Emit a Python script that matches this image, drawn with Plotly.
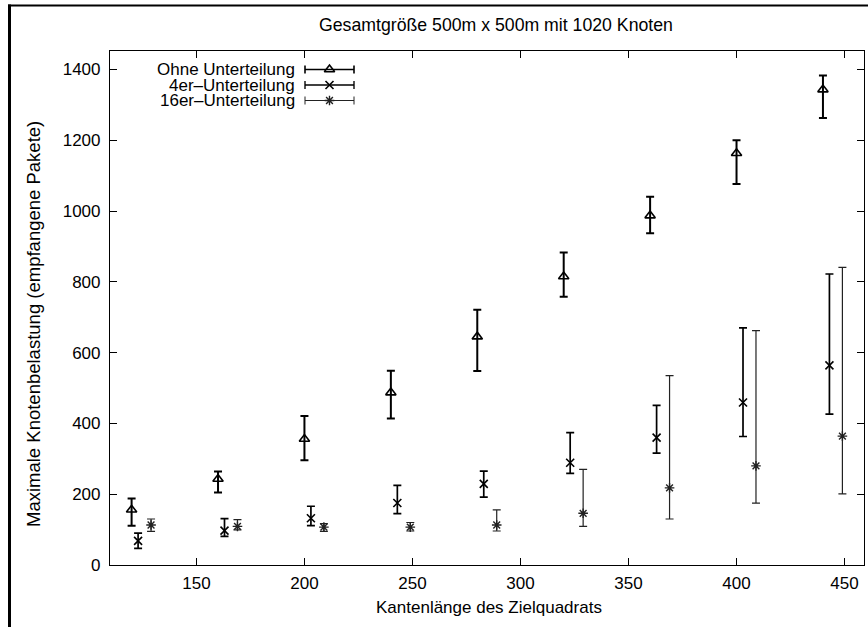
import plotly.graph_objects as go

# ---- data ----
x_ohne = [120, 160, 200, 240, 280, 320, 360, 400, 440]
y_ohne = [156, 243, 356, 487, 645, 815, 987, 1163, 1343]
lo_ohne = [111, 205, 296, 414, 548, 758, 937, 1076, 1263]
hi_ohne = [188, 264, 421, 549, 721, 883, 1040, 1200, 1383]

x_4er = [123, 163, 203, 243, 283, 323, 363, 403, 443]
y_4er = [68, 97, 132, 175, 229, 289, 360, 459, 564]
lo_4er = [47, 81, 111, 145, 192, 259, 316, 363, 426]
hi_4er = [90, 131, 166, 225, 265, 374, 451, 670, 822]

x_16er = [129, 169, 209, 249, 289, 329, 369, 409, 449]
y_16er = [113, 109, 107, 107, 113, 146, 218, 280, 364]
lo_16er = [95, 99, 95, 96, 96, 109, 130, 175, 201]
hi_16er = [130, 128, 117, 120, 156, 270, 535, 662, 841]

series_names = ["Ohne Unterteilung", "4er\u2013Unterteilung", "16er\u2013Unterteilung"]
x_ticks = [150, 200, 250, 300, 350, 400, 450]
y_ticks = [0, 200, 400, 600, 800, 1000, 1200, 1400]

title = "Gesamtgr\u00f6\u00dfe 500m x 500m mit 1020 Knoten"
x_title = "Kantenl\u00e4nge des Zielquadrats"
y_title = "Maximale Knotenbelastung (empfangene Pakete)"

W, H = 868, 627
L, R, T, B = 110, 864, 51, 565   # plot area in pixels
FONT = "Liberation Sans, Arial, Helvetica, sans-serif"
FS = 17


def px(xp):
    return (xp - L) / (R - L)


def py(yp):
    return (B - yp) / (B - T)


styles = [
    dict(symbol="triangle-up-open", size=9, lw=1.6, color="#000000", ew=2.0),
    dict(symbol="x-thin-open", size=8, lw=1.6, color="#000000", ew=1.7),
    dict(symbol="asterisk-open", size=8, lw=1.4, color="#222222", ew=1.2),
]
datasets = [
    (x_ohne, y_ohne, lo_ohne, hi_ohne),
    (x_4er, y_4er, lo_4er, hi_4er),
    (x_16er, y_16er, lo_16er, hi_16er),
]

fig = go.Figure()
for name, (xs, ys, lo, hi), st in zip(series_names, datasets, styles):
    fig.add_trace(go.Scatter(
        x=xs, y=ys, mode="markers", name=name, showlegend=False,
        marker=dict(symbol=st["symbol"], size=st["size"], color=st["color"],
                    line=dict(width=st["lw"], color=st["color"])),
        error_y=dict(type="data", symmetric=False,
                     array=[h - y for h, y in zip(hi, ys)],
                     arrayminus=[y - l for l, y in zip(lo, ys)],
                     color=st["color"], thickness=st["ew"], width=4),
    ))

# ---- gnuplot-style key (overlay axes in pixel units of the plot area) ----
key_rows_y = [69.5, 85, 100.5]
key_text_right = 296
key_left, key_right = 305, 354
for i, (name, st) in enumerate(zip(series_names, styles)):
    yk = key_rows_y[i]
    lw = max(1.0, st["ew"] * 0.8)
    fig.add_trace(go.Scatter(
        x=[key_left, key_right], y=[yk, yk], mode="lines", xaxis="x2", yaxis="y2",
        line=dict(color=st["color"], width=lw), showlegend=False, hoverinfo="skip"))
    for xc in (key_left, key_right):
        fig.add_trace(go.Scatter(
            x=[xc, xc], y=[yk - 4, yk + 4], mode="lines", xaxis="x2", yaxis="y2",
            line=dict(color=st["color"], width=lw), showlegend=False, hoverinfo="skip"))
    fig.add_trace(go.Scatter(
        x=[(key_left + key_right) / 2], y=[yk], mode="markers", xaxis="x2", yaxis="y2",
        marker=dict(symbol=st["symbol"], size=st["size"], color=st["color"],
                    line=dict(width=st["lw"], color=st["color"])),
        showlegend=False, hoverinfo="skip"))
    fig.add_annotation(x=px(key_text_right), y=py(yk), xref="paper", yref="paper", text=name,
                       showarrow=False, xanchor="right", yanchor="middle",
                       borderpad=0, font=dict(family=FONT, size=FS, color="black"))

axis_common = dict(showline=True, linecolor="black", linewidth=1.2, mirror="ticks",
                   ticks="inside", ticklen=7, tickwidth=1.2, tickcolor="black",
                   showgrid=False, zeroline=False,
                   tickfont=dict(family=FONT, size=FS, color="black"))

fig.update_layout(
    width=W, height=H,
    margin=dict(l=L, r=W - R, t=T, b=H - B),
    paper_bgcolor="white", plot_bgcolor="white",
    showlegend=False,
    xaxis=dict(range=[110, 459], tickvals=x_ticks, ticklabelstandoff=2, **axis_common),
    yaxis=dict(range=[0, 1452], tickvals=y_ticks, ticklabelstandoff=5, **axis_common),
    xaxis2=dict(range=[L, R], domain=[0, 1], overlaying="x", visible=False, fixedrange=True),
    yaxis2=dict(range=[B, T], domain=[0, 1], overlaying="y", visible=False, fixedrange=True),
)

# title and axis titles
fig.add_annotation(x=px(496), y=py(25), xref="paper", yref="paper", text=title,
                   showarrow=False, xanchor="center", yanchor="middle",
                   font=dict(family=FONT, size=17.7, color="black"))
fig.add_annotation(x=px(489), y=py(607), xref="paper", yref="paper", text=x_title,
                   showarrow=False, xanchor="center", yanchor="middle",
                   font=dict(family=FONT, size=FS, color="black"))
fig.add_annotation(x=px(33), y=py(324), xref="paper", yref="paper", text=y_title,
                   showarrow=False, xanchor="center", yanchor="middle", textangle=-90,
                   font=dict(family=FONT, size=18.5, color="black"))

# page frame (left and top border)
fig.add_shape(type="line", xref="paper", yref="paper", x0=px(9.5), x1=px(9.5), y0=py(H + 2), y1=py(4.5),
              line=dict(color="black", width=3))
fig.add_shape(type="line", xref="paper", yref="paper", x0=px(8), x1=px(W + 2), y0=py(5.5), y1=py(5.5),
              line=dict(color="black", width=2))

fig.write_html("out.html", config={"displayModeBar": False},
               post_script="document.body.style.margin='0px';")
